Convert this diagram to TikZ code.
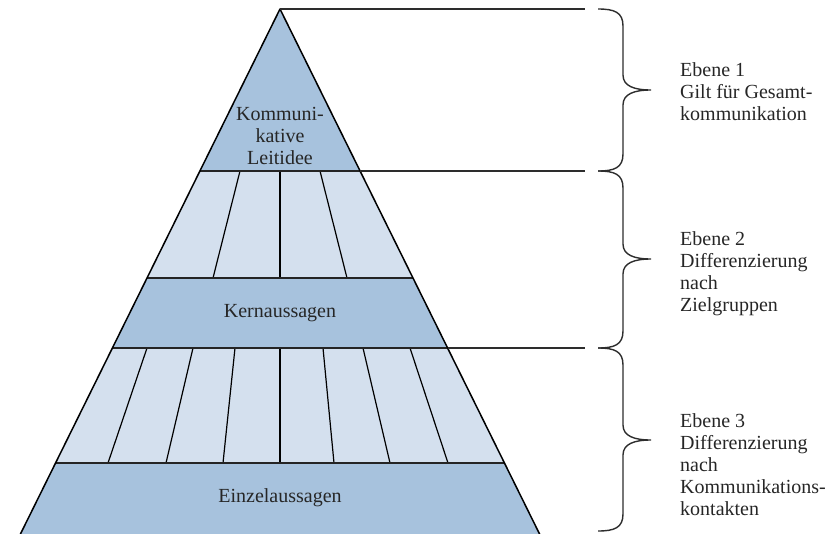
\documentclass[tikz,border=0pt]{standalone}
\usepackage{fontspec}
\setmainfont{Liberation Serif}
\definecolor{bandDark}{RGB}{167,194,221}
\definecolor{bandLight}{RGB}{212,224,238}
\definecolor{lineGray}{RGB}{45,45,45}
\tikzset{
  edgeline/.style={line width=1.5pt, draw=black},
  sepline/.style={line width=1.4pt, draw=lineGray!80!black},
  divline/.style={line width=1.2pt, draw=black},
  conn/.style={line width=1.3pt, draw=lineGray},
  bracestyle/.style={line width=1.4pt, draw=lineGray, line join=miter},
  lbl/.style={font=\fontsize{20}{22}\selectfont, align=center, inner sep=0pt, text=black!85},
  side/.style={font=\fontsize{20}{22}\selectfont, align=left, anchor=north west, inner sep=0pt, text=black!85}
}
% #1 top y, #2 tip y, #3 bottom y
\newcommand{\sidebrace}[3]{%
  \draw[bracestyle] (598,#1) .. controls (614,#1) and (623,#1+3) .. (623,#1+17)
    -- (623,#2-15) .. controls (623,#2-4) and (634,#2) .. (651,#2)
    .. controls (634,#2) and (623,#2+4) .. (623,#2+15)
    -- (623,#3-17) .. controls (623,#3-3) and (614,#3) .. (598,#3);}
\begin{document}
\begin{tikzpicture}[x=1pt, y=-1pt, line join=round]
\useasboundingbox (0,0) rectangle (832,533);
% pyramid corner points
\coordinate (apex) at (280,9);
\coordinate (l1) at (200,171); \coordinate (r1) at (360,171);
\coordinate (l2) at (147,278); \coordinate (r2) at (413,278);
\coordinate (l3) at (112,348); \coordinate (r3) at (448,348);
\coordinate (l4) at (55,463);  \coordinate (r4) at (505,463);
\coordinate (l5) at (17,541);  \coordinate (r5) at (543,541);
% fills
\fill[bandDark]  (apex) -- (r1) -- (l1) -- cycle;
\fill[bandLight] (l1) -- (r1) -- (r2) -- (l2) -- cycle;
\fill[bandDark]  (l2) -- (r2) -- (r3) -- (l3) -- cycle;
\fill[bandLight] (l3) -- (r3) -- (r4) -- (l4) -- cycle;
\fill[bandDark]  (l4) -- (r4) -- (r5) -- (l5) -- cycle;
% dividers, level 2
\draw[divline] (240,171) -- (213,278);
\draw[divline] (280,171) -- (280,278);
\draw[divline] (320,171) -- (347,278);
% dividers, level 3
\foreach \t/\b in {147/108, 193/166, 235/223, 280/280, 323/334, 363/390, 410/448}
  \draw[divline] (\t,348) -- (\b,463);
% separators
\draw[sepline] (l1) -- (r1);
\draw[sepline] (l2) -- (r2);
\draw[sepline] (l3) -- (r3);
\draw[sepline] (l4) -- (r4);
% side edges
\draw[edgeline] (l5) -- (apex) -- (r5);
% connectors to braces
\coordinate (c1) at (585,9);
\coordinate (c2) at (585,171);
\coordinate (c3) at (585,348);
\draw[conn] (apex) -- (c1);
\draw[conn] (r1) -- (c2);
\draw[conn] (r3) -- (c3);
% braces
\sidebrace{9}{90}{171}
\sidebrace{171}{259}{348}
\sidebrace{348}{440}{531}
% pyramid labels
\node[lbl] (komm) at (280,136) {Kommuni-\\kative\\Leitidee};
\node[lbl] (kern) at (280,313) {Kernaussagen};
\node[lbl] (einz) at (280,498) {Einzelaussagen};
% side labels
\node[side] (e1) at (680,60.6) {\strut Ebene 1\\Gilt für Gesamt-\\kommunikation};
\node[side] (e2) at (680,229.6) {\strut Ebene 2\\Differenzierung\\nach\\Zielgruppen};
\node[side] (e3) at (680,411.6) {\strut Ebene 3\\Differenzierung\\nach\\Kommunikations-\\kontakten};
\end{tikzpicture}
\end{document}
